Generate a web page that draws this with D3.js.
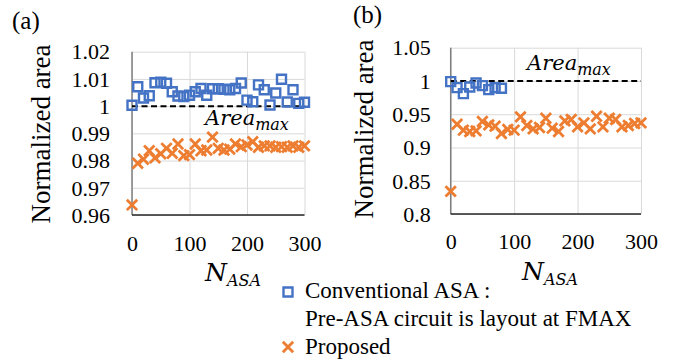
<!DOCTYPE html>
<html>
<head>
<meta charset="utf-8">
<script src="https://cdn.jsdelivr.net/npm/d3@7"></script>
<style>
  body { margin: 0; background: #fff; }
  svg { display: block; }
</style>
</head>
<body>
<svg id="chart" width="674" height="362"></svg>
<script>
// N_ASA values (x axis)
const nAll = [0, 10, 20, 30, 40, 50, 60, 70, 80, 90, 100, 110, 120, 130, 140, 150,
  160, 170, 180, 190, 200, 210, 220, 230, 240, 250, 260, 270, 280, 290, 300];
const nConvRight = [0, 10, 20, 30, 40, 50, 60, 70, 80];

// (a) normalized area
const convLeft = [1.0003, 1.0071, 1.003, 1.0038, 1.0086, 1.0088, 1.0084, 1.0053, 1.0037, 1.0035,
  1.004, 1.0053, 1.0065, 1.004, 1.0064, 1.0064, 1.0062, 1.006, 1.0065, 1.0085,
  1.0022, 1.0016, 1.0078, 1.006, 1.0004, 1.0048, 1.0099, 1.0015, 1.006, 1.001, 1.0014];
const propLeft = [0.9637, 0.979, 0.9805, 0.9836, 0.981, 0.9825, 0.9845, 0.9827, 0.9861, 0.9818,
  0.9822, 0.9861, 0.9836, 0.9839, 0.9886, 0.9845, 0.9839, 0.9842, 0.9861, 0.9851,
  0.9857, 0.9869, 0.9849, 0.9854, 0.9854, 0.9849, 0.9851, 0.9849, 0.9854, 0.9849, 0.9854];

// (b) normalized area
const convRight = [0.999, 0.99, 0.981, 0.991, 0.997, 0.993, 0.987, 0.99, 0.989];
const propRight = [0.834, 0.935, 0.926, 0.924, 0.925, 0.939, 0.934, 0.932, 0.921, 0.927,
  0.926, 0.946, 0.933, 0.928, 0.930, 0.944, 0.929, 0.924, 0.940, 0.942,
  0.931, 0.937, 0.928, 0.947, 0.931, 0.944, 0.942, 0.931, 0.933, 0.936, 0.937];

const yTicksLeft = [0.96, 0.97, 0.98, 0.99, 1, 1.01, 1.02];
const yTicksRight = [0.8, 0.85, 0.9, 0.95, 1, 1.05];
const xTicks = [0, 100, 200, 300];
const areaMax = 1;

const serif = "'Liberation Serif', 'Times New Roman', Tinos, 'DejaVu Serif', serif";
const mathFont = "'DejaVu Serif', serif";
const blue = "#4472c4", orange = "#ed7d31", grid = "#d9d9d9";

const svg = d3.select("#chart");
svg.append("rect").attr("width", 674).attr("height", 362).attr("fill", "#fff");

const squareSym = d3.symbol(d3.symbolSquare, 81);
const crossSym = d3.symbol(d3.symbolTimes, 72);

function drawPanel(p) {
  const x = d3.scaleLinear().domain([0, 300]).range([p.left, p.right]);
  const y = d3.scaleLinear().domain(p.yDomain).range([p.bottom, p.top]);
  const g = svg.append("g");

  // gridlines + tick labels
  g.append("g")
      .attr("transform", `translate(${p.left},0)`)
      .call(d3.axisLeft(y).tickValues(p.yTicks).tickSize(-(p.right - p.left))
        .tickPadding(p.yPad).tickFormat(d => String(d)))
      .call(a => a.attr("font-family", null))
      .call(a => a.select(".domain").remove())
      .call(a => a.selectAll("line").attr("stroke", grid))
      .call(a => a.selectAll("text").style("font-family", serif).style("font-size", "22px")
        .attr("fill", "#000").attr("dy", "0.33em"));

  g.append("g")
      .attr("transform", `translate(0,${p.bottom})`)
      .call(d3.axisBottom(x).tickValues(xTicks).tickSize(-(p.bottom - p.top))
        .tickPadding(p.xPad).tickFormat(d3.format("d")))
      .call(a => a.attr("font-family", null))
      .call(a => a.select(".domain").remove())
      .call(a => a.selectAll("line").attr("stroke", grid))
      .call(a => a.selectAll("text").style("font-family", serif).style("font-size", "22px")
        .attr("fill", "#000"));

  // axis lines
  g.append("line").attr("x1", p.left).attr("x2", p.left)
      .attr("y1", p.top).attr("y2", p.bottom)
      .attr("stroke", "#7f7f7f").attr("stroke-width", 1.5);
  g.append("line").attr("x1", p.left).attr("x2", p.right)
      .attr("y1", p.bottom).attr("y2", p.bottom)
      .attr("stroke", "#262626").attr("stroke-width", 1.5);

  // Area_max dashed line
  g.append("line").attr("x1", x(0)).attr("x2", x(300))
      .attr("y1", y(areaMax)).attr("y2", y(areaMax))
      .attr("stroke", "#000").attr("stroke-width", 2).attr("stroke-dasharray", "6,3.5");

  // series
  g.selectAll(".conv").data(p.conv).enter().append("path")
      .attr("transform", (d, i) => `translate(${x(p.nConv[i])},${y(d)})`)
      .attr("d", squareSym).attr("fill", "none")
      .attr("stroke", blue).attr("stroke-width", 2.4);

  g.selectAll(".prop").data(p.prop).enter().append("path")
      .attr("transform", (d, i) => `translate(${x(nAll[i])},${y(d)})`)
      .attr("d", crossSym).attr("fill", "none")
      .attr("stroke", orange).attr("stroke-width", 2.8);

  // y title
  g.append("text")
      .attr("transform", `translate(${p.titleX},${p.titleY}) rotate(-90)`)
      .attr("text-anchor", "middle").style("font-family", serif).style("font-size", "27px")
      .text("Normalized area");

  // x title N_ASA
  const nt = g.append("text").attr("x", p.nasaX).attr("y", p.nasaY)
      .style("font-family", mathFont).style("font-style", "italic").style("font-size", "25px");
  nt.append("tspan").text("N");
  nt.append("tspan").attr("dy", 5).style("font-size", "16px").text("ASA");

  // Area_max label
  const at = g.append("text").attr("x", p.amX).attr("y", p.amY)
      .style("font-family", mathFont).style("font-style", "italic").style("font-size", "21px");
  at.append("tspan").text("Area");
  at.append("tspan").attr("dy", 5).style("font-size", "16px").text("max");

  // panel tag
  svg.append("text").attr("x", p.tagX).attr("y", p.tagY)
      .style("font-family", serif).style("font-size", "25px").text(p.tag);
}

drawPanel({
  left: 132, right: 304.5, top: 51.7, bottom: 215,
  yDomain: [0.96, 1.02], yTicks: yTicksLeft, yPad: 22, xPad: 20,
  conv: convLeft, nConv: nAll, prop: propLeft,
  titleX: 50, titleY: 134, nasaX: 205, nasaY: 281, amX: 205, amY: 125,
  tag: "(a)", tagX: 12, tagY: 29
});

drawPanel({
  left: 450.7, right: 641, top: 47.7, bottom: 214,
  yDomain: [0.8, 1.05], yTicks: yTicksRight, yPad: 20, xPad: 19,
  conv: convRight, nConv: nConvRight, prop: propRight,
  titleX: 373, titleY: 129, nasaX: 522, nasaY: 280, amX: 527, amY: 70,
  tag: "(b)", tagX: 353, tagY: 23
});

// legend
const legend = svg.append("g").style("font-family", serif).style("font-size", "23px");
legend.append("path").attr("transform", "translate(288,292)").attr("d", squareSym)
    .attr("fill", "none").attr("stroke", blue).attr("stroke-width", 2.4);
legend.append("text").attr("x", 305).attr("y", 298).text("Conventional ASA :");
legend.append("text").attr("x", 305).attr("y", 326).text("Pre-ASA circuit is layout at FMAX");
legend.append("path").attr("transform", "translate(288,347)").attr("d", crossSym)
    .attr("fill", "none").attr("stroke", orange).attr("stroke-width", 2.8);
legend.append("text").attr("x", 305).attr("y", 354).text("Proposed");
</script>
</body>
</html>
